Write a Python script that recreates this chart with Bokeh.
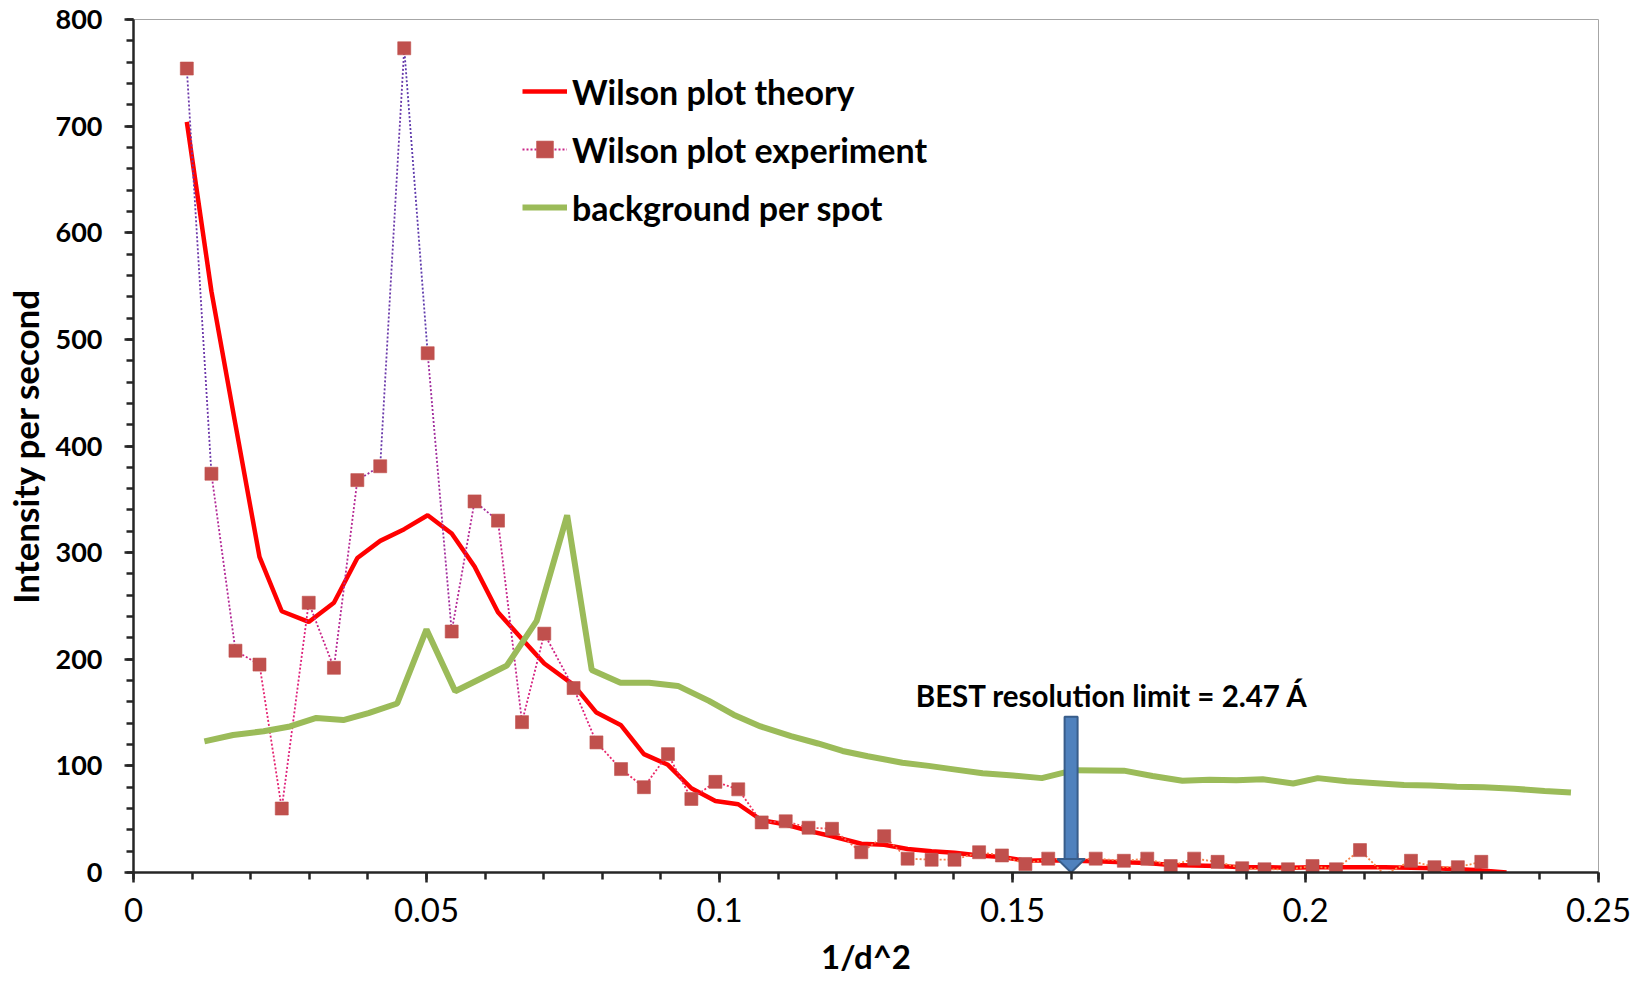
from bokeh.plotting import figure
from bokeh.models import (Range1d, SingleIntervalTicker, NumeralTickFormatter, Legend,
                          LegendItem, Label, ColumnDataSource)
from bokeh.embed import file_html
from bokeh.resources import INLINE

# ---------------- data ----------------
theory_x = [0.0091, 0.0133, 0.0174, 0.0215, 0.0253, 0.0299, 0.0342, 0.0382, 0.0421, 0.0462,
            0.0502, 0.0543, 0.0582, 0.0622, 0.0663, 0.0701, 0.0751, 0.0790, 0.0832, 0.0871,
            0.0912, 0.0952, 0.0993, 0.1032, 0.1072, 0.1113, 0.1152, 0.1192, 0.1242, 0.1281,
            0.1321, 0.1362, 0.1401, 0.1443, 0.1482, 0.1522, 0.1561, 0.1601, 0.1642, 0.1690,
            0.1730, 0.1770, 0.1810, 0.1850, 0.1892, 0.1930, 0.1970, 0.2012, 0.2052, 0.2093,
            0.2135, 0.2180, 0.2220, 0.2260, 0.2300, 0.2343]
theory_y = [704, 545, 420, 296, 245, 235, 253, 295, 311, 322,
            335, 318, 287, 244, 219, 196, 176, 150, 138, 111,
            101, 79, 67, 64, 49, 45, 39, 34, 27, 26,
            22, 20, 18.5, 16, 14.5, 11, 11.5, 11, 10.5, 9.5,
            9, 7, 6.5, 6, 5, 5, 4.5, 5, 5, 5,
            5, 4.5, 4, 3, 2, 0]

exp_x = theory_x[:-1]
exp_y = [754, 374, 208, 195, 60, 253, 192, 368, 381, 773,
         487, 226, 348, 330, 141, 224, 173, 122, 97, 80,
         111, 69, 85, 78, 47, 48, 42, 41, 19, 34,
         13, 12, 12, 19, 16, 8, 13, 12, 13, 11,
         13, 6, 13, 10, 4, 3, 3, 6, 3, 21,
         -2, 11, 5, 5, 10]

bg_x = [0.0121, 0.0170, 0.0222, 0.0267, 0.0312, 0.0358, 0.0401, 0.0450, 0.0500, 0.0549,
        0.0593, 0.0637, 0.0688, 0.0740, 0.0782, 0.0831, 0.0880, 0.0929, 0.0982, 0.1024,
        0.1070, 0.1122, 0.1168, 0.1210, 0.1253, 0.1312, 0.1357, 0.1403, 0.1449, 0.1501,
        0.1550, 0.1605, 0.1690, 0.1739, 0.1790, 0.1836, 0.1882, 0.1927, 0.1979, 0.2021,
        0.2070, 0.2115, 0.2168, 0.2213, 0.2258, 0.2304, 0.2356, 0.2408, 0.2453]
bg_y = [123, 129, 132.5, 137, 145, 143, 149.5, 158.5, 228, 170,
        182, 194, 236, 335, 190, 178, 178, 175, 161, 148,
        137, 128, 121, 114, 109, 103, 100, 96.5, 93, 91,
        88.5, 96, 95.5, 90.5, 86, 87, 86.5, 87.5, 83.5, 88.5,
        85.5, 84, 82, 81.5, 80.5, 80, 78.5, 76.5, 75]

series_names = ["Wilson plot theory", "Wilson plot experiment", "background per spot"]
x_title = "1/d^2"
y_title = "Intensity per second"
annotation_text = "BEST resolution limit = 2.47 Á"
resolution_x = 0.16          # position of the arrow (1/d^2)
arrow_top = 146              # top of the arrow shaft (intensity units)
label_pos = (0.167, 166)     # centre of the annotation text

# ---------------- styles ----------------
FONT = "Lato"
RED = "#FF0000"
GREEN = "#9BBB59"
MARKER = "#C0504D"
ARROW_FILL = "#4F81BD"
ARROW_LINE = "#385D8A"
AXIS = "#262626"
GRAD_Y = [0, 60, 150, 300, 500, 780]
GRAD_C = ["#F79646", "#F0305A", "#E0207A", "#B02A98", "#7A36A8", "#4040B0"]

X0, X1, Y0, Y1 = 0, 0.25, 0, 800
W, H = 1646, 988
BL, BR, BT, BB = 133, 48, 19, 116
PX_X = (W - BL - BR) / (X1 - X0)   # px per x unit
PX_Y = (H - BT - BB) / (Y1 - Y0)   # px per y unit


def hex2rgb(h):
    return tuple(int(h[i:i + 2], 16) for i in (1, 3, 5))


def grad(yv):
    yv = max(GRAD_Y[0], min(GRAD_Y[-1], yv))
    for i in range(len(GRAD_Y) - 1):
        if GRAD_Y[i] <= yv <= GRAD_Y[i + 1]:
            t = (yv - GRAD_Y[i]) / (GRAD_Y[i + 1] - GRAD_Y[i])
            a, b = hex2rgb(GRAD_C[i]), hex2rgb(GRAD_C[i + 1])
            return "#%02x%02x%02x" % tuple(int(round(a[k] + (b[k] - a[k]) * t)) for k in range(3))
    return GRAD_C[-1]


p = figure(width=W, height=H, x_range=Range1d(X0, X1), y_range=Range1d(Y0, Y1),
           output_backend="svg", toolbar_location=None,
           min_border_left=BL, min_border_right=BR, min_border_top=BT, min_border_bottom=BB,
           background_fill_color="white", border_fill_color="white")
p.xgrid.visible = False
p.ygrid.visible = False
p.outline_line_color = "#A6A6A6"
p.outline_line_width = 1

# theory line
r_theory = p.line(theory_x, theory_y, line_color=RED, line_width=4.5)

# experiment: dotted gradient segments + square markers
seg_src = ColumnDataSource(dict(
    x0=exp_x[:-1], x1=exp_x[1:], y0=exp_y[:-1], y1=exp_y[1:],
    c=[grad((a + b) / 2) for a, b in zip(exp_y[:-1], exp_y[1:])]))
r_seg = p.segment("x0", "y0", "x1", "y1", source=seg_src, line_color="c",
                  line_width=1.8, line_dash="2 2")
mk_x = [x for x, y in zip(exp_x, exp_y) if y >= 0]
mk_y = [y for y in exp_y if y >= 0]
r_mk = p.scatter(mk_x, mk_y, marker="square", size=13, fill_color=MARKER,
                 line_color=MARKER, line_alpha=0.6)

# background line
r_bg = p.line(bg_x, bg_y, line_color=GREEN, line_width=6)

# arrow (shaft + head)
shaft_half = 6.5 / PX_X
head_half = 13.7 / PX_X
head_len = 13.5 / PX_Y
p.quad(left=[resolution_x - shaft_half], right=[resolution_x + shaft_half],
       bottom=[head_len], top=[arrow_top], fill_color=ARROW_FILL,
       line_color=ARROW_LINE, line_width=2)
p.patch([resolution_x - head_half, resolution_x + head_half, resolution_x],
        [head_len, head_len, 0], fill_color=ARROW_FILL, line_color=ARROW_LINE,
        line_width=2)

p.add_layout(Label(x=label_pos[0], y=label_pos[1], text=annotation_text,
                   text_align="center", text_baseline="middle",
                   text_font=FONT, text_font_style="bold", text_font_size="29.5px",
                   text_color="black"))

# axes
for ax in (p.xaxis[0], p.yaxis[0]):
    ax.axis_line_color = AXIS
    ax.axis_line_width = 2.5
    ax.major_tick_line_color = AXIS
    ax.minor_tick_line_color = AXIS
    ax.major_tick_line_width = 2.5
    ax.minor_tick_line_width = 2.5
    ax.major_tick_in = 0
    ax.minor_tick_in = 0
    ax.major_label_text_font = FONT
    ax.major_label_text_color = "black"
    ax.axis_label_text_font = FONT
    ax.axis_label_text_font_style = "bold"
    ax.axis_label_text_color = "black"

p.xaxis.ticker = SingleIntervalTicker(interval=0.05, num_minor_ticks=5)
p.yaxis.ticker = SingleIntervalTicker(interval=100, num_minor_ticks=5)
p.xaxis.formatter = NumeralTickFormatter(format="0.[00]")
p.xaxis.major_label_text_font_style = "normal"
p.xaxis.major_label_text_font_size = "33px"
p.xaxis.major_tick_out = 10
p.xaxis.minor_tick_out = 7
p.xaxis.major_label_standoff = 15
p.xaxis.axis_label = x_title
p.xaxis.axis_label_text_font_size = "33px"
p.xaxis.axis_label_standoff = 11

p.yaxis.major_label_text_font_style = "bold"
p.yaxis.major_label_text_font_size = "27px"
p.yaxis.major_tick_out = 9
p.yaxis.minor_tick_out = 7
p.yaxis.major_label_standoff = 22
p.yaxis.axis_label = y_title
p.yaxis.axis_label_text_font_size = "35px"
p.yaxis.axis_label_standoff = 7

legend = Legend(items=[
    LegendItem(label=series_names[0], renderers=[r_theory]),
    LegendItem(label=series_names[1], renderers=[r_seg, r_mk], index=5),
    LegendItem(label=series_names[2], renderers=[r_bg]),
], location=(389, 644), orientation="vertical")
legend.border_line_color = None
legend.background_fill_alpha = 0
legend.padding = 0
legend.margin = 0
legend.spacing = 16
legend.glyph_width = 45
legend.glyph_height = 42
legend.label_height = 42
legend.label_standoff = 5
legend.label_text_font = FONT
legend.label_text_font_style = "bold"
legend.label_text_font_size = "34px"
legend.label_text_color = "black"
p.add_layout(legend, "center")

open("out.html", "w").write(file_html(p, INLINE))
